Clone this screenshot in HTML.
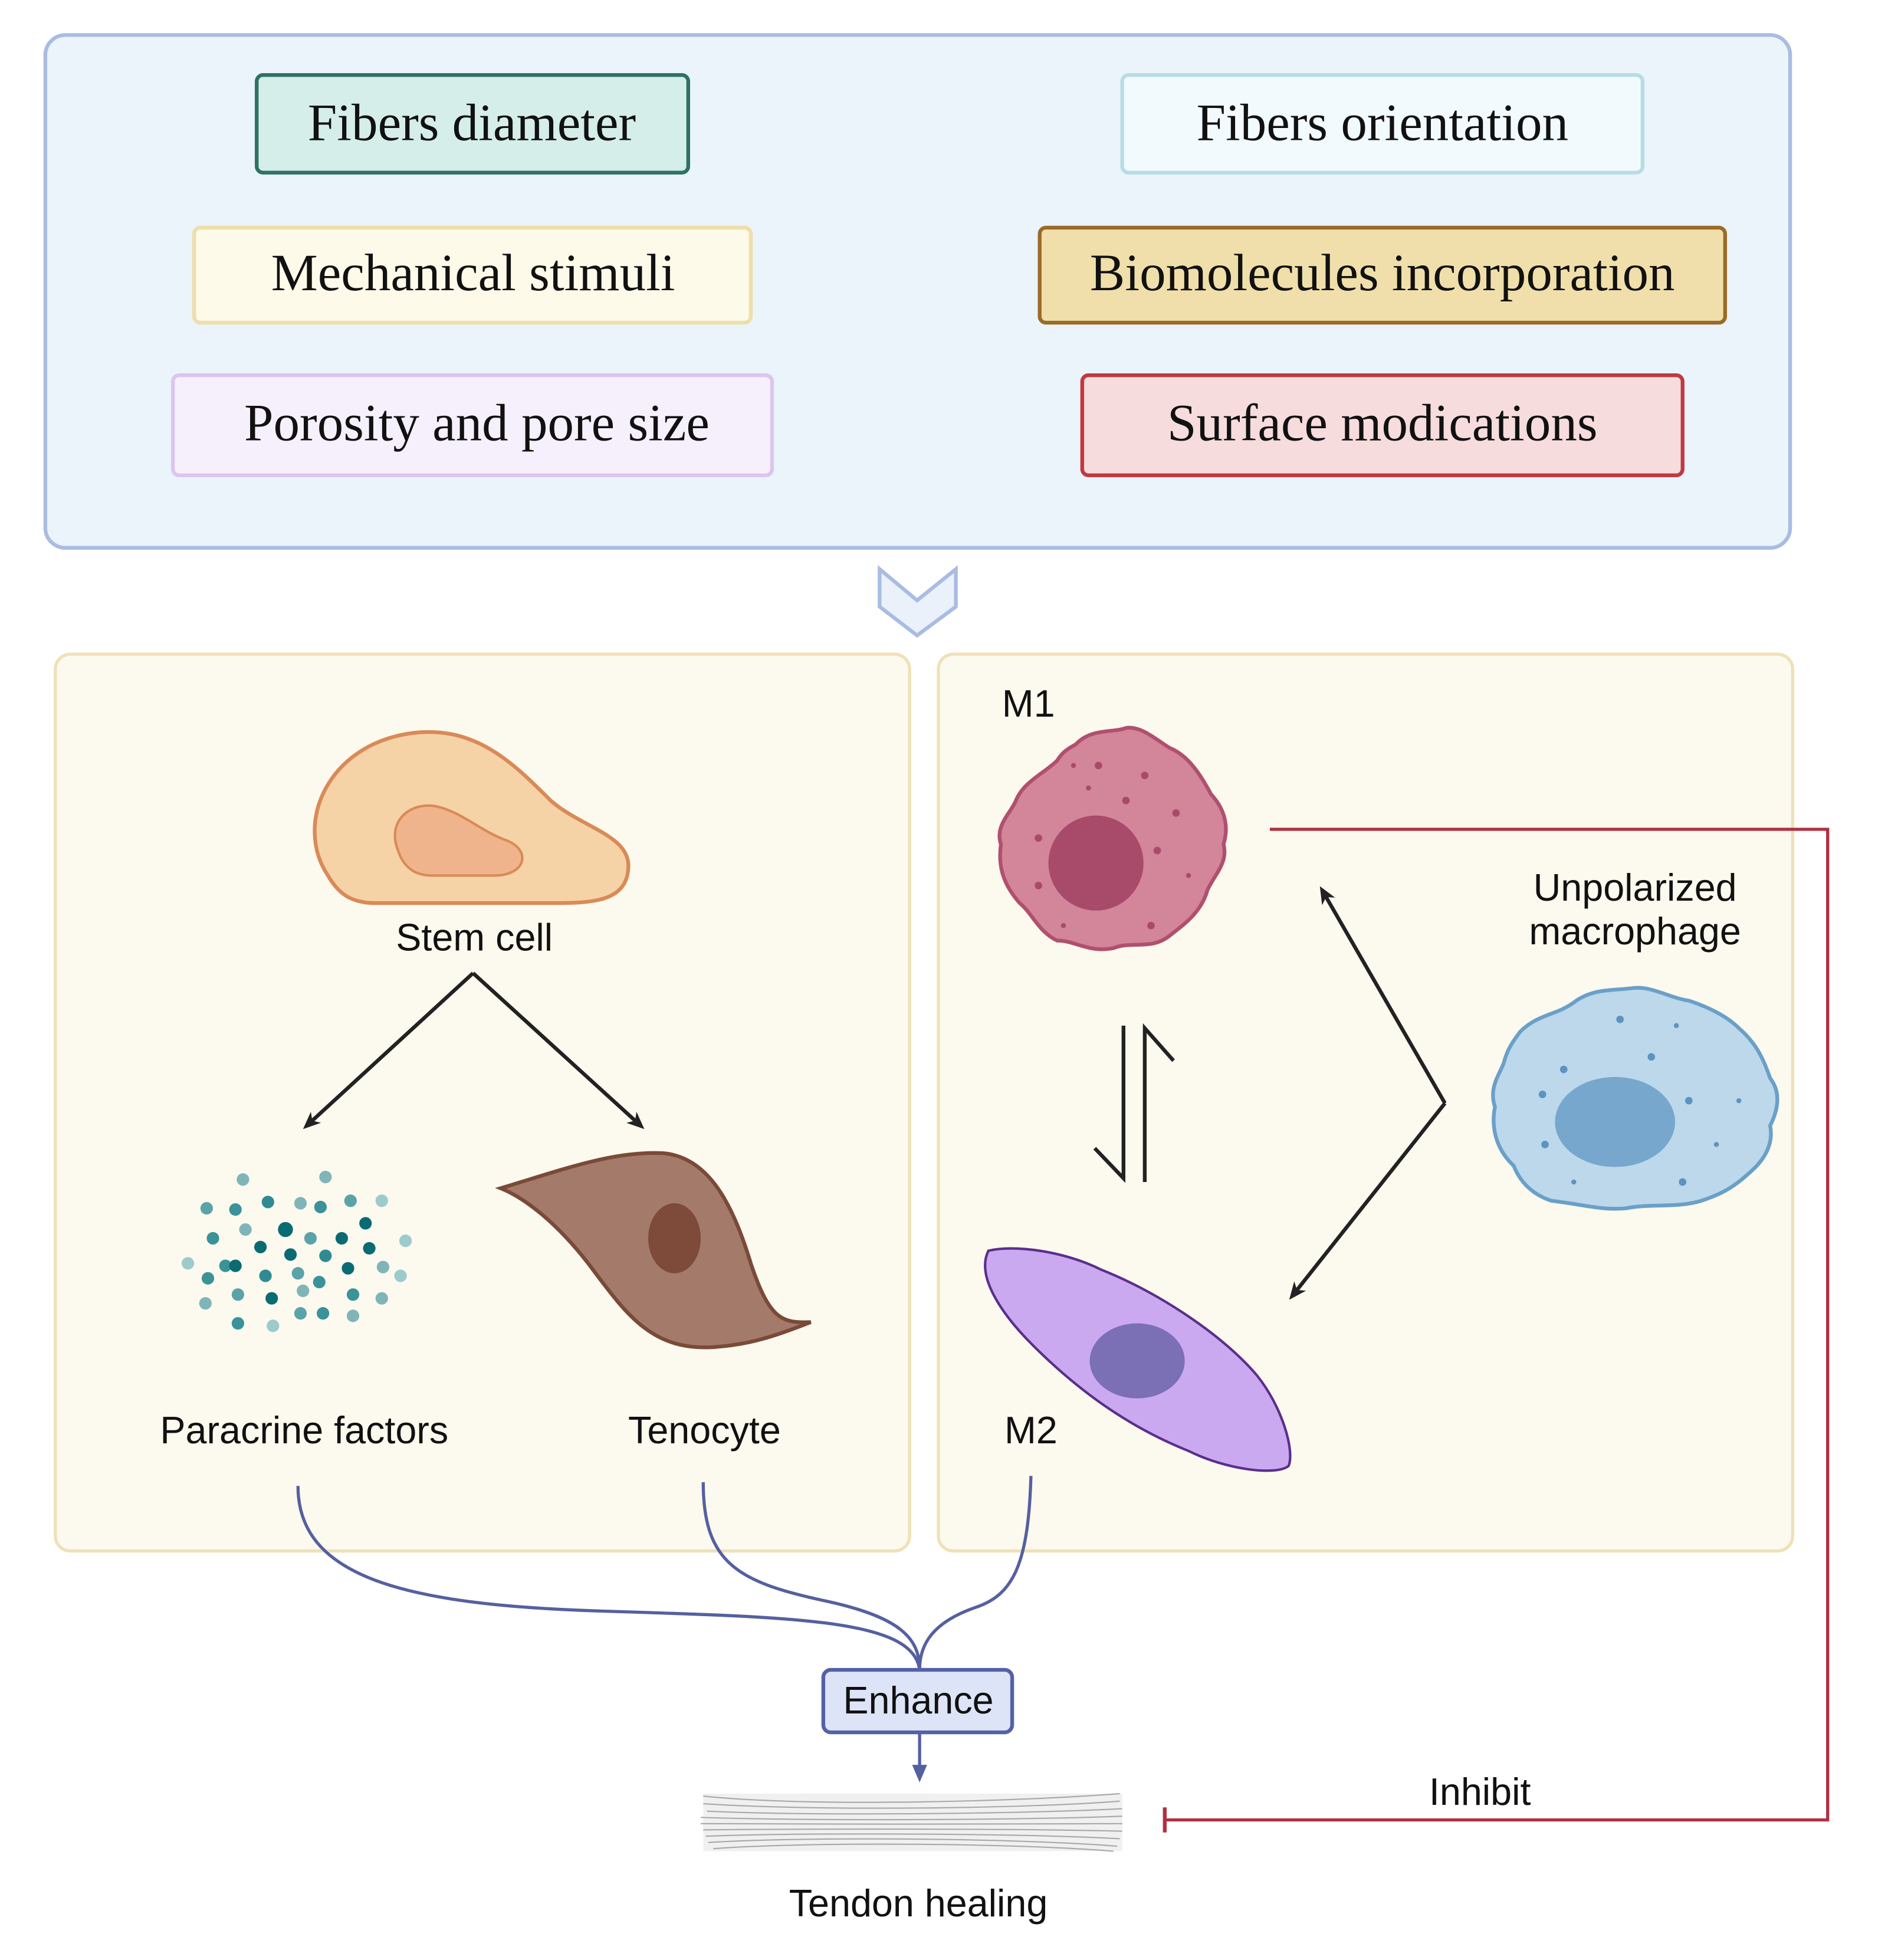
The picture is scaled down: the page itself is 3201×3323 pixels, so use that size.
<!DOCTYPE html>
<html><head><meta charset="utf-8"><style>html,body{margin:0;padding:0;background:#fff}svg{display:block}</style></head>
<body>
<svg width="3201" height="3323" viewBox="0 0 1509 1567" xmlns="http://www.w3.org/2000/svg">
<defs>
<marker id="ak" markerWidth="14" markerHeight="14" refX="10" refY="7" orient="auto" markerUnits="userSpaceOnUse"><path d="M0,1 L14,7 L0,13 L4,7 Z" fill="#222"/></marker>
<marker id="ab" markerWidth="14" markerHeight="14" refX="7" refY="7" orient="auto" markerUnits="userSpaceOnUse"><path d="M0,1 L14,7 L0,13 Z" fill="#5560a0"/></marker>
</defs>
<rect x="36" y="28" width="1395" height="410" rx="16" fill="#ebf3fb" stroke="#a9bce2" stroke-width="3"/>
<g font-family="Liberation Serif, serif" font-size="42" text-anchor="middle" fill="#111">
<rect x="205" y="60" width="345" height="78" rx="5" fill="#d5eeea" stroke="#2e7263" stroke-width="3"/><text x="377" y="112">Fibers diameter</text>
<rect x="897" y="60" width="416" height="78" rx="5" fill="#f3fafd" stroke="#b6dde6" stroke-width="3"/><text x="1105" y="112">Fibers orientation</text>
<rect x="155" y="182" width="445" height="76" rx="5" fill="#fdfaea" stroke="#eedfa8" stroke-width="3"/><text x="378" y="232">Mechanical stimuli</text>
<rect x="831" y="182" width="548" height="76" rx="5" fill="#f0dfaa" stroke="#9a6b26" stroke-width="3"/><text x="1105" y="232">Biomolecules incorporation</text>
<rect x="138" y="300" width="479" height="80" rx="5" fill="#f6f0fd" stroke="#dcc5ef" stroke-width="3"/><text x="381" y="352">Porosity and pore size</text>
<rect x="865" y="300" width="480" height="80" rx="5" fill="#f7dcdd" stroke="#c0393f" stroke-width="3"/><text x="1105" y="352">Surface modications</text>
</g>
<path d="M703,455 L733,480 L764,455 L764,485 L733,508 L703,485 Z" fill="#eaf1fb" stroke="#a9bce2" stroke-width="3"/>
<rect x="44" y="523" width="683" height="717" rx="12" fill="#fcf9ee" stroke="#efe1b8" stroke-width="2.5"/>
<rect x="750" y="523" width="683" height="717" rx="12" fill="#fcf9ee" stroke="#efe1b8" stroke-width="2.5"/>
<!-- stem cell -->
<path d="M262,700 C235,660 260,595 330,586 C380,580 410,610 440,640 C465,662 505,668 502,695 C500,722 470,722 440,722 L300,722 C280,722 270,714 262,700 Z" fill="#f6d3a7" stroke="#d98a57" stroke-width="3"/>
<path d="M318,680 C308,655 330,640 350,645 C370,650 385,665 405,672 C425,680 420,700 395,700 L345,700 C330,700 322,692 318,680 Z" fill="#f0b48c" stroke="#d98a57" stroke-width="2"/>
<g font-family="Liberation Sans, sans-serif" font-size="30.5" fill="#111" text-anchor="middle">
<text x="379" y="760">Stem cell</text>
<text x="243" y="1154">Paracrine factors</text>
<text x="563" y="1154">Tenocyte</text>
<text x="822" y="573">M1</text>
<text x="824" y="1154">M2</text>
<text x="1307" y="720">Unpolarized</text>
<text x="1307" y="755">macrophage</text>
<text x="1183" y="1443">Inhibit</text>
<text x="734" y="1532">Tendon healing</text>
</g>
<path d="M378,778 L245,900" fill="none" stroke="#222" stroke-width="3" marker-end="url(#ak)"/>
<path d="M378,778 L512,900" fill="none" stroke="#222" stroke-width="3" marker-end="url(#ak)"/>
<!-- dots -->
<g>
<circle cx="194" cy="943" r="5" fill="#7fb5b8"/><circle cx="260" cy="941" r="5" fill="#7fb5b8"/><circle cx="165" cy="966" r="5" fill="#5aa3a8"/><circle cx="188" cy="967" r="5" fill="#3b9298"/><circle cx="214" cy="961" r="5" fill="#2f8b91"/><circle cx="240" cy="962" r="5" fill="#7fb5b8"/><circle cx="256" cy="965" r="5" fill="#3b9298"/><circle cx="280" cy="960" r="5" fill="#5aa3a8"/><circle cx="305" cy="960" r="5" fill="#9ccbcd"/>
<circle cx="170" cy="990" r="5" fill="#3b9298"/><circle cx="196" cy="983" r="5" fill="#7fb5b8"/><circle cx="228" cy="983" r="6" fill="#0b6b72"/><circle cx="248" cy="990" r="5" fill="#5aa3a8"/><circle cx="273" cy="990" r="5" fill="#0b6b72"/><circle cx="292" cy="978" r="5" fill="#0b6b72"/><circle cx="324" cy="992" r="5" fill="#9ccbcd"/>
<circle cx="150" cy="1010" r="5" fill="#9ccbcd"/><circle cx="180" cy="1012" r="5" fill="#3b9298"/><circle cx="208" cy="997" r="5" fill="#0b6b72"/><circle cx="232" cy="1003" r="5" fill="#0b6b72"/><circle cx="260" cy="1004" r="5" fill="#2f8b91"/><circle cx="295" cy="998" r="5" fill="#0b6b72"/><circle cx="306" cy="1013" r="5" fill="#7fb5b8"/>
<circle cx="166" cy="1022" r="5" fill="#3b9298"/><circle cx="188" cy="1012" r="5" fill="#0b6b72"/><circle cx="212" cy="1020" r="5" fill="#2f8b91"/><circle cx="238" cy="1018" r="5" fill="#5aa3a8"/><circle cx="255" cy="1025" r="5" fill="#3b9298"/><circle cx="278" cy="1014" r="5" fill="#0b6b72"/><circle cx="320" cy="1020" r="5" fill="#9ccbcd"/>
<circle cx="164" cy="1042" r="5" fill="#7fb5b8"/><circle cx="190" cy="1035" r="5" fill="#5aa3a8"/><circle cx="217" cy="1038" r="5" fill="#0b6b72"/><circle cx="242" cy="1032" r="5" fill="#7fb5b8"/><circle cx="282" cy="1035" r="5" fill="#3b9298"/><circle cx="305" cy="1038" r="5" fill="#7fb5b8"/>
<circle cx="190" cy="1058" r="5" fill="#3b9298"/><circle cx="218" cy="1060" r="5" fill="#9ccbcd"/><circle cx="240" cy="1050" r="5" fill="#5aa3a8"/><circle cx="258" cy="1050" r="5" fill="#3b9298"/><circle cx="282" cy="1052" r="5" fill="#7fb5b8"/>
</g>
<!-- tenocyte -->
<path d="M400,950 C450,935 490,920 530,922 C565,925 585,960 600,1010 C615,1055 625,1058 648,1057 C620,1068 600,1075 570,1077 C520,1080 500,1050 470,1010 C445,978 420,958 400,950 Z" fill="#a47b6a" stroke="#7a4a38" stroke-width="3"/>
<ellipse cx="539" cy="990" rx="21" ry="28" fill="#7e4a3a"/>
<!-- M1 -->
<path d="M860,595 C872,582 890,586 900,582 C912,580 925,592 935,598 C950,604 960,620 968,635 C980,648 982,662 978,675 C982,690 970,700 965,712 C960,730 945,740 935,748 C920,760 905,752 890,758 C870,762 860,752 845,752 C830,745 825,730 815,722 C800,705 798,690 800,675 C795,660 808,650 812,640 C818,625 835,618 845,608 C850,600 855,598 860,595 Z" fill="#d38599" stroke="#b0506e" stroke-width="3"/>
<circle cx="876" cy="690" r="38" fill="#a84b6a"/>
<g fill="#a84b6a"><circle cx="878" cy="612" r="3"/><circle cx="858" cy="612" r="2"/><circle cx="915" cy="620" r="3"/><circle cx="900" cy="640" r="3"/><circle cx="940" cy="650" r="3"/><circle cx="925" cy="680" r="3"/><circle cx="830" cy="670" r="3"/><circle cx="830" cy="708" r="3"/><circle cx="850" cy="740" r="2"/><circle cx="920" cy="740" r="3"/><circle cx="950" cy="700" r="2"/><circle cx="870" cy="630" r="2"/></g>
<!-- M2 -->
<path d="M790,1000 C810,995 850,1000 880,1015 C930,1035 980,1070 1005,1100 C1025,1125 1035,1160 1030,1172 C1020,1180 980,1175 950,1160 C900,1140 860,1110 825,1075 C800,1050 780,1020 790,1000 Z" fill="#cba9f0" stroke="#5a2f8a" stroke-width="2"/>
<ellipse cx="909" cy="1088" rx="38" ry="30" fill="#7b6fb5"/>
<!-- Unpolarized -->
<path d="M1215,825 C1230,810 1245,812 1260,800 C1275,790 1290,792 1305,790 C1320,788 1335,798 1350,800 C1365,805 1380,812 1390,822 C1405,835 1410,848 1415,862 C1425,875 1420,890 1415,900 C1418,915 1410,928 1398,938 C1385,950 1375,955 1360,960 C1340,966 1320,962 1300,966 C1280,968 1260,962 1240,960 C1225,955 1215,945 1210,932 C1195,918 1192,900 1195,885 C1190,870 1198,860 1202,850 C1205,838 1210,832 1215,825 Z" fill="#bcd8ea" stroke="#6aa0c8" stroke-width="3"/>
<ellipse cx="1291" cy="897" rx="48" ry="36" fill="#77a7cd"/>
<g fill="#5d93c0"><circle cx="1295" cy="815" r="3"/><circle cx="1320" cy="845" r="3"/><circle cx="1340" cy="820" r="2"/><circle cx="1350" cy="880" r="3"/><circle cx="1250" cy="855" r="3"/><circle cx="1233" cy="875" r="3"/><circle cx="1235" cy="915" r="3"/><circle cx="1258" cy="945" r="2"/><circle cx="1345" cy="945" r="3"/><circle cx="1372" cy="915" r="2"/><circle cx="1390" cy="880" r="2"/></g>
<!-- equilibrium arrows -->
<path d="M898,820 L898,942 L875,918" fill="none" stroke="#222" stroke-width="3"/>
<path d="M915,945 L915,822 L938,848" fill="none" stroke="#222" stroke-width="3"/>
<path d="M1155,882 L1057,712" fill="none" stroke="#222" stroke-width="3" marker-end="url(#ak)"/>
<path d="M1155,882 L1033,1036" fill="none" stroke="#222" stroke-width="3" marker-end="url(#ak)"/>
<!-- red inhibit -->
<path d="M1015,663 L1461,663 L1461,1455 L931,1455" fill="none" stroke="#b03040" stroke-width="2.5"/>
<path d="M931,1445 L931,1465" stroke="#b03040" stroke-width="3"/>
<!-- blue curves -->
<g fill="none" stroke="#5560a0" stroke-width="2.5">
<path d="M238,1188 C238,1260 320,1283 480,1288 C640,1293 730,1295 735,1335"/>
<path d="M562,1185 C562,1250 590,1265 660,1280 C720,1293 735,1310 735,1335"/>
<path d="M824,1180 C822,1250 810,1275 780,1285 C745,1297 735,1315 735,1335"/>
<path d="M735,1385 L735,1418" marker-end="url(#ab)"/>
</g>
<rect x="658" y="1335" width="151" height="50" rx="6" fill="#dde4f7" stroke="#5461a6" stroke-width="3"/>
<text x="734" y="1370" font-family="Liberation Sans, sans-serif" font-size="30.5" fill="#111" text-anchor="middle">Enhance</text>
<!-- tendon -->
<rect x="562" y="1434" width="335" height="46" fill="#e6e6e6" opacity="0.6"/>
<g stroke="#a8a8a8" stroke-width="1" fill="none">
<path d="M562,1436 C650,1445 820,1440 895,1434"/><path d="M562,1442 C650,1448 820,1446 895,1440"/><path d="M565,1448 C650,1452 820,1450 897,1446"/><path d="M560,1453 C650,1456 820,1455 897,1452"/><path d="M560,1458 C650,1459 820,1458 897,1458"/><path d="M562,1463 C650,1462 820,1462 897,1464"/><path d="M564,1468 C650,1465 820,1466 895,1470"/><path d="M566,1473 C650,1468 820,1470 893,1476"/><path d="M570,1478 C650,1472 820,1474 890,1480"/>
</g>
</svg>
</body></html>
